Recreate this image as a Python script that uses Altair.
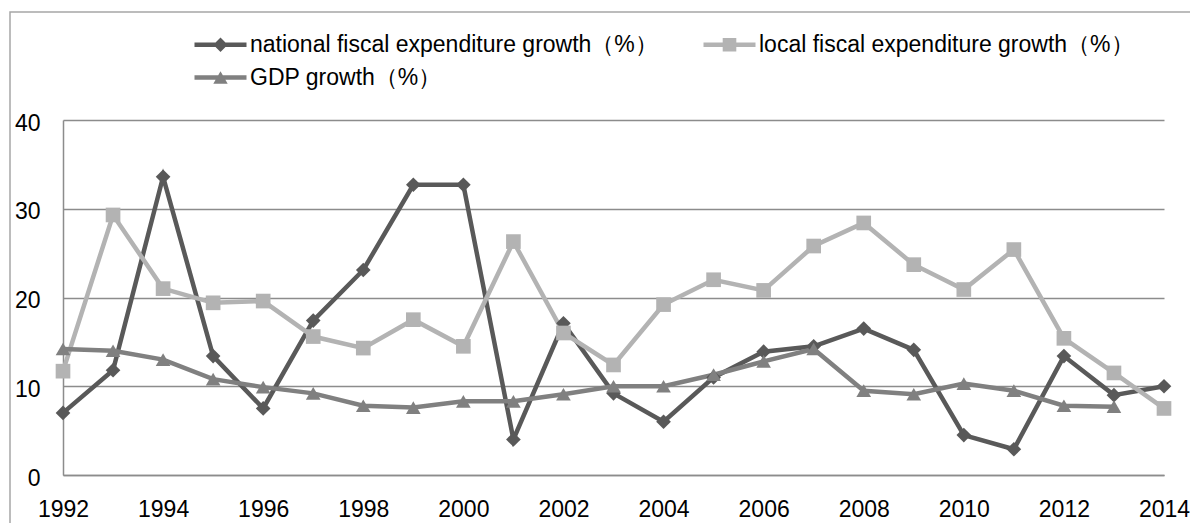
import altair as alt
import pandas as pd

years = list(range(1992, 2015))
national = [7.0, 11.8, 33.6, 13.4, 7.5, 17.4, 23.1, 32.7, 32.7, 4.0, 17.1, 9.2, 6.0, 11.0,
            13.9, 14.5, 16.5, 14.1, 4.5, 2.9, 13.4, 9.0, 10.0]
local = [11.7, 29.3, 21.0, 19.4, 19.6, 15.6, 14.3, 17.5, 14.5, 26.3, 16.0, 12.4, 19.2, 22.0,
         20.8, 25.8, 28.4, 23.7, 20.9, 25.4, 15.4, 11.5, 7.5]
gdp_years = list(range(1992, 2014))
gdp = [14.2, 14.0, 13.0, 10.8, 9.9, 9.2, 7.8, 7.6, 8.3, 8.3, 9.1, 10.0, 10.0, 11.3,
       12.8, 14.2, 9.5, 9.1, 10.3, 9.5, 7.8, 7.7]

series_names = ["national fiscal expenditure growth（%）",
                "local fiscal expenditure growth（%）",
                "GDP growth（%）"]
series_colors = ["#595959", "#b3b3b3", "#808080"]

rows = []
for y, v in zip(years, national):
    rows.append({"year": y, "value": v, "series": series_names[0]})
for y, v in zip(years, local):
    rows.append({"year": y, "value": v, "series": series_names[1]})
for y, v in zip(gdp_years, gdp):
    rows.append({"year": y, "value": v, "series": series_names[2]})
df = pd.DataFrame(rows)
df["legend"] = df["series"]

FONT = "Liberation Sans"

x_enc = alt.X("year:Q",
              scale=alt.Scale(domain=[1992, 2014], nice=False, zero=False),
              axis=alt.Axis(values=list(range(1992, 2015, 2)), format="d", title=None,
                            grid=False, ticks=False, domain=True, domainColor="#8c8c8c",
                            domainWidth=1.5, labelFontSize=23, labelFont=FONT,
                            labelColor="#000000", labelPadding=23, labelFlush=False,
                            labelOverlap=False))
y_enc = alt.Y("value:Q",
              scale=alt.Scale(domain=[0, 40], nice=False),
              axis=alt.Axis(values=[0, 10, 20, 30, 40], title=None, grid=True,
                            gridColor="#8c8c8c", gridWidth=1.5, ticks=False, domain=True,
                            domainColor="#8c8c8c", domainWidth=1.5, labelFontSize=23,
                            labelFont=FONT, labelColor="#000000", labelPadding=23,
                            labelOffset=3))

color_scale = alt.Scale(domain=series_names, range=series_colors)

frame = alt.Chart(pd.DataFrame({"k": [0]})).mark_rect(
    fill=None, stroke="#a6a6a6", strokeWidth=1.5
).encode(x=alt.value(-53), x2=alt.value(1300), y=alt.value(-108), y2=alt.value(600))

lines = alt.Chart(df).mark_line(strokeWidth=4.5).encode(
    x=x_enc, y=y_enc,
    color=alt.Color("series:N", scale=color_scale, legend=None),
    detail="series:N",
    order="year:Q",
)

points = alt.Chart(df).mark_point(filled=True, opacity=1, size=215).encode(
    x=x_enc, y=y_enc,
    color=alt.Color("series:N", scale=color_scale, legend=None),
    shape=alt.Shape("series:N",
                    scale=alt.Scale(domain=series_names,
                                    range=["diamond", "square", "triangle-up"]),
                    legend=None),
)

leg_shapes = [
    "M-2.6,-0.23H2.6V0.23H-2.6Z M0,-0.72L0.72,0L0,0.72L-0.72,0Z",
    "M-2.6,-0.23H2.6V0.23H-2.6Z M-0.68,-0.68H0.68V0.68H-0.68Z",
    "M-2.6,-0.23H2.6V0.23H-2.6Z M0,-0.62L0.72,0.62L-0.72,0.62Z",
]

leg_props = dict(title=None, orient="none", legendX=146, legendY=-87, direction="horizontal",
                 columns=2, columnPadding=45, rowPadding=9,
                 labelFontSize=23, labelFont=FONT, labelColor="#000000",
                 labelLimit=1000, labelOffset=18, symbolSize=400,
                 symbolOpacity=1, symbolStrokeWidth=0, padding=0)

legend_layer = alt.Chart(df).mark_point(filled=True, opacity=0, size=400).encode(
    x=x_enc, y=y_enc,
    color=alt.Color("legend:N",
                    scale=alt.Scale(domain=series_names, range=series_colors),
                    legend=alt.Legend(**leg_props)),
    shape=alt.Shape("legend:N",
                    scale=alt.Scale(domain=series_names, range=leg_shapes),
                    legend=alt.Legend(**leg_props)),
)

chart = alt.layer(frame, lines, points, legend_layer).resolve_scale(
    color="independent", shape="independent"
).properties(
    width=1101, height=355,
    autosize=alt.AutoSizeParams(type="none"),
    padding={"left": 55, "top": 112, "right": 26, "bottom": 48},
    background="#ffffff",
).configure_view(stroke=None)

chart.save("out.html", embed_options={"renderer": "svg", "actions": False})
